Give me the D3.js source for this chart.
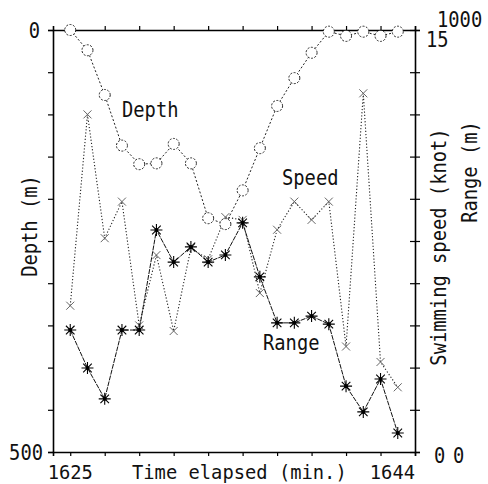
<!DOCTYPE html>
<html>
<head>
<meta charset="utf-8">
<script src="https://cdn.jsdelivr.net/npm/d3@7"></script>
<style>
  body { margin: 0; background: #fff; }
  text { font-family: "DejaVu Sans Mono", monospace; fill: #111; }
</style>
</head>
<body>
<svg id="canvas"></svg>
<script>
// ---------------- data ----------------
let minutes = d3.range(0, 20)   // 16:25 .. 16:44, one sample a minute
let depth = [0, 24, 77, 137, 159, 158, 135, 158, 223, 230, 190, 140, 90, 57, 27, 2, 7, 2, 7, 2]
let speed = [5.2, 12.0, 7.6, 8.9, 4.5, 7.0, 4.3, 7.25, 6.85, 8.35, 8.25, 5.65, 7.9, 8.9, 8.25, 8.9, 3.75, 12.75, 3.2, 2.3]
let range = [289, 199, 126, 289, 289, 526, 450, 486, 450, 467, 543, 415, 306, 306, 322, 303, 156, 95, 173, 45]

let timeLabels = [{ t: 0, text: '1625' }, { t: 19, text: '1644' }]

let width = 488
let height = 484
let padL = 53, padR = 415, padT = 30, padB = 452

let canvas = d3.select('#canvas')
canvas.attr('width', width).attr('height', height)

// scales
let xScale = d3.scaleLinear().domain([-1, 20]).range([padL, padR])
let yDepth = d3.scaleLinear().domain([0, 500]).range([padT, padB])
let ySpeed = d3.scaleLinear().domain([0, 15]).range([padB, padT])
let yRange = d3.scaleLinear().domain([0, 1000]).range([padB, padT])

// squeezed mono text, the original font is tall and narrow
let label = (x, y, str, anchor, rot, size) => {
    let t = canvas.append('text')
        .attr('x', x).attr('y', y)
        .attr('font-size', size || 21)
        .attr('text-anchor', anchor || 'start')
        .attr('textLength', str.length * 11.3)
        .attr('lengthAdjust', 'spacingAndGlyphs')
        .text(str)
    if (rot) t.attr('transform', 'rotate(-90,' + x + ',' + y + ')')
    return t
}

// ---------------- axes ----------------
let evenTicks = d3.range(0, 21, 2)

let bottomAxis = d3.axisBottom(xScale).tickValues(evenTicks).tickSize(4).tickFormat('')
let topAxis = d3.axisTop(xScale).tickValues(evenTicks).tickSize(4).tickFormat('')
let leftAxis = d3.axisLeft(yDepth).ticks(10).tickSize(5).tickFormat('')
let rightAxis = d3.axisRight(ySpeed).tickValues(d3.range(0, 15.1, 1.5)).tickSize(5).tickFormat('')

canvas.append('g').attr('transform', 'translate(0,' + padB + ')').call(bottomAxis)
canvas.append('g').attr('transform', 'translate(0,' + padT + ')').call(topAxis)
canvas.append('g').attr('transform', 'translate(' + padL + ',0)').call(leftAxis)
let rg = canvas.append('g').attr('transform', 'translate(' + padR + ',0)').call(rightAxis)
// right ticks cross the axis
rg.selectAll('.tick line').attr('x1', -5)

canvas.selectAll('.domain').attr('stroke', '#000').attr('stroke-width', 1.6)
canvas.selectAll('.tick line').attr('stroke', '#000').attr('stroke-width', 1.2)

// ---------------- lines ----------------
let lineOf = (vals, y) => d3.line()
    .x((d, i) => xScale(minutes[i]))
    .y(d => y(d))(vals)

canvas.append('path')
    .attr('d', lineOf(speed, ySpeed))
    .attr('fill', 'none')
    .attr('stroke', '#222')
    .attr('stroke-width', 1.1)
    .attr('stroke-dasharray', '1.2,2')

canvas.append('path')
    .attr('d', lineOf(range, yRange))
    .attr('fill', 'none')
    .attr('stroke', '#111')
    .attr('stroke-width', 1)
    .attr('stroke-dasharray', '5,1')

canvas.append('path')
    .attr('d', lineOf(depth, yDepth))
    .attr('fill', 'none')
    .attr('stroke', '#222')
    .attr('stroke-width', 1)
    .attr('stroke-dasharray', '2,2')

// ---------------- markers ----------------
canvas.selectAll('.spd')
    .data(speed)
    .enter()
    .append('path')
    .attr('class', 'spd')
    .attr('transform', (d, i) => 'translate(' + xScale(minutes[i]) + ',' + ySpeed(d) + ')')
    .attr('d', 'M-4,-4L4,4M-4,4L4,-4')
    .attr('stroke', '#666')
    .attr('stroke-width', 1)

let star = 'M-6,0L6,0M0,-6L0,6M-4.3,-4.3L4.3,4.3M-4.3,4.3L4.3,-4.3'
let rngG = canvas.selectAll('.rng')
    .data(range)
    .enter()
    .append('g')
    .attr('class', 'rng')
    .attr('transform', (d, i) => 'translate(' + xScale(minutes[i]) + ',' + yRange(d) + ')')
rngG.append('path').attr('d', star).attr('stroke', '#000').attr('stroke-width', 1.1)
rngG.append('circle').attr('r', 2).attr('fill', '#000')

canvas.selectAll('.dep')
    .data(depth)
    .enter()
    .append('circle')
    .attr('class', 'dep')
    .attr('cx', (d, i) => xScale(minutes[i]))
    .attr('cy', d => yDepth(d))
    .attr('r', 5.5)
    .attr('fill', '#fff')
    .attr('stroke', '#222')
    .attr('stroke-width', 1)
    .attr('stroke-dasharray', '2,1.5')

// ---------------- text ----------------
label(40, 38, '0', 'end')
label(43, 460, '500', 'end')
label(426, 47, '15')
label(437, 27, '1000')
label(434, 463, '0')
label(453, 463, '0')

timeLabels.forEach(d => {
    label(d.t === 0 ? xScale(d.t) : padR, 479, d.text, d.t === 0 ? 'middle' : 'end', false, 20)
})

label(132, 479, 'Time elapsed (min.)', 'start', false, 20)
label(37, 226, 'Depth (m)', 'middle', true)
label(446, 247, 'Swimming speed (knot)', 'middle', true)
label(477, 172, 'Range (m)', 'middle', true)

label(122, 117, 'Depth')
label(282, 185, 'Speed')
label(263, 350, 'Range')
</script>
</body>
</html>
